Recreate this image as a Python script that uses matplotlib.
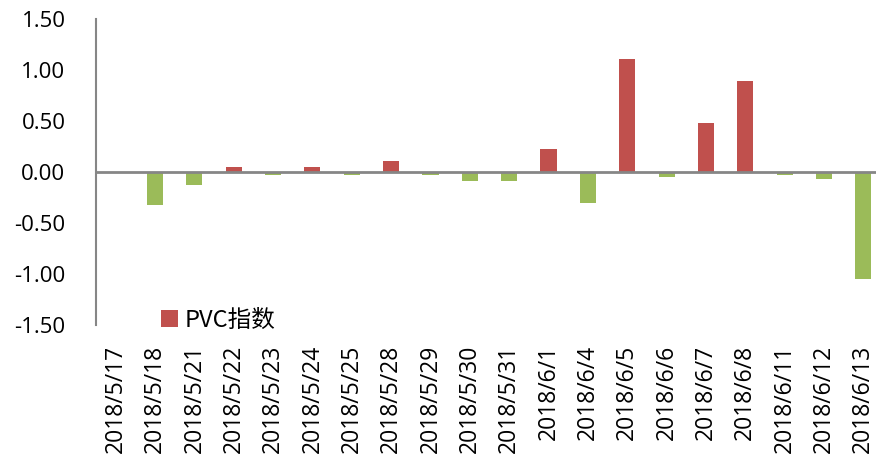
import matplotlib
matplotlib.use("Agg")
import matplotlib.pyplot as plt
import numpy as np
from matplotlib.patches import Patch

# --- data ---
dates = ["2018/5/17", "2018/5/18", "2018/5/21", "2018/5/22", "2018/5/23",
         "2018/5/24", "2018/5/25", "2018/5/28", "2018/5/29", "2018/5/30",
         "2018/5/31", "2018/6/1", "2018/6/4", "2018/6/5", "2018/6/6",
         "2018/6/7", "2018/6/8", "2018/6/11", "2018/6/12", "2018/6/13"]
pvc_index = [0.0, -0.32, -0.13, 0.05, -0.03,
             0.05, -0.03, 0.11, -0.03, -0.09,
             -0.09, 0.23, -0.30, 1.11, -0.05,
             0.48, 0.89, -0.03, -0.07, -1.05]
y_ticks = [-1.5, -1.0, -0.5, 0.0, 0.5, 1.0, 1.5]

RED = "#C0504D"
GREEN = "#9BBB59"
AXIS_GREY = "#868686"

plt.rcParams['font.family'] = ['Open Sans', 'Noto Sans CJK SC', 'DejaVu Sans']

fig = plt.figure(figsize=(8.76, 4.63), dpi=100)
ax = fig.add_axes([96 / 876, (463 - 325) / 463, (883 - 96) / 876, (325 - 19) / 463])

x = np.arange(len(dates))
vals = np.array(pvc_index)
colors = [RED if v >= 0 else GREEN for v in vals]
ax.bar(x, vals, width=0.41, color=colors, zorder=2)

ax.set_xlim(-0.5, len(dates) - 0.5)
ax.set_ylim(-1.5, 1.5)
ax.set_yticks(y_ticks)
ax.set_yticklabels([f"{t:.2f}" for t in y_ticks], fontsize=16)
ax.set_xticks(x)
ax.set_xticklabels(dates, rotation=90, fontsize=16.5)
ax.tick_params(axis='y', length=0, pad=22)
ax.tick_params(axis='x', length=0, pad=14)

for s in ["top", "right", "bottom"]:
    ax.spines[s].set_visible(False)
ax.spines["left"].set_color(AXIS_GREY)
ax.spines["left"].set_linewidth(1.5)
ax.axhline(0, color=AXIS_GREY, linewidth=2, zorder=3)

handle = Patch(facecolor=RED, label="PVC指数")
ax.legend(handles=[handle], loc="center left", bbox_to_anchor=(0.0826, 0.015),
          frameon=False, borderpad=0, borderaxespad=0,
          handlelength=0.7, handleheight=0.7, handletextpad=0.3,
          prop={'family': ['Noto Sans CJK SC'], 'size': 17})

fig.savefig("out.png", dpi=100)
